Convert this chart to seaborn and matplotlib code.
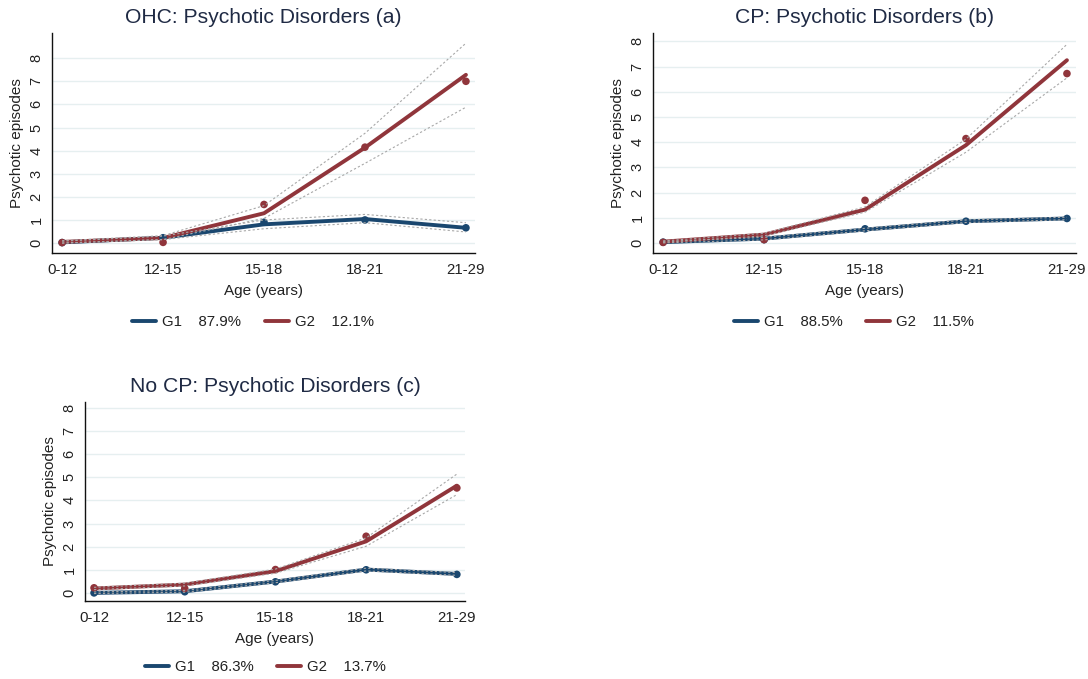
import numpy as np
import pandas as pd
import matplotlib
matplotlib.use("Agg")
import matplotlib.pyplot as plt
import seaborn as sns

# Age bands on the x axis
ages = ["0-12", "12-15", "15-18", "18-21", "21-29"]

# Panel (a): OHC
a_g1_fit = [0.03, 0.23, 0.81, 1.04, 0.66]
a_g1_obs = [0.02, 0.23, 0.90, 1.00, 0.66]
a_g1_lo = [0.00, 0.15, 0.62, 0.88, 0.48]
a_g1_hi = [0.08, 0.30, 1.00, 1.24, 0.88]
a_g2_fit = [0.05, 0.22, 1.29, 4.13, 7.28]
a_g2_obs = [0.02, 0.03, 1.67, 4.15, 7.00]
a_g2_lo = [0.00, 0.15, 1.07, 3.45, 5.88]
a_g2_hi = [0.10, 0.32, 1.62, 4.75, 8.65]
a_shares = ["87.9%", "12.1%"]

# Panel (b): CP
b_g1_fit = [0.03, 0.17, 0.53, 0.86, 0.97]
b_g1_obs = [0.03, 0.13, 0.56, 0.86, 0.97]
b_g1_lo = [0.00, 0.12, 0.48, 0.81, 0.92]
b_g1_hi = [0.06, 0.22, 0.58, 0.91, 1.02]
b_g2_fit = [0.05, 0.33, 1.32, 3.88, 7.25]
b_g2_obs = [0.02, 0.13, 1.69, 4.14, 6.72]
b_g2_lo = [0.02, 0.28, 1.22, 3.60, 6.55]
b_g2_hi = [0.08, 0.38, 1.43, 4.12, 7.88]
b_shares = ["88.5%", "11.5%"]

# Panel (c): No CP
c_g1_fit = [0.00, 0.07, 0.49, 1.01, 0.82]
c_g1_obs = [0.00, 0.05, 0.48, 1.00, 0.80]
c_g1_lo = [-0.03, 0.03, 0.44, 0.95, 0.76]
c_g1_hi = [0.04, 0.11, 0.54, 1.07, 0.88]
c_g2_fit = [0.19, 0.36, 0.94, 2.23, 4.64]
c_g2_obs = [0.22, 0.19, 1.01, 2.45, 4.54]
c_g2_lo = [0.14, 0.30, 0.85, 2.02, 4.25]
c_g2_hi = [0.24, 0.42, 1.03, 2.38, 5.14]
c_shares = ["86.3%", "13.7%"]

sns.set_style("white")
plt.rcParams["font.family"] = ["Liberation Sans", "DejaVu Sans"]

NAVY = "#1a476f"
MAROON = "#90353b"
CI_GREY = "#a8a8a8"
GRID = "#e6eff0"
TITLE_C = "#1f2a44"
TEXT_C = "#222222"


def build_frame(g1, g2):
    rows = []
    for grp, (fit, obs, lo, hi) in (("G1", g1), ("G2", g2)):
        for i, age in enumerate(ages):
            rows.append(dict(group=grp, x=i, age=age, fit=fit[i], obs=obs[i],
                             lo=lo[i], hi=hi[i]))
    return pd.DataFrame(rows)


def draw_panel(ax, df, title, shares, ylim, legend_y):
    palette = {"G1": NAVY, "G2": MAROON}
    for y in range(0, 9):
        ax.axhline(y, color=GRID, lw=1.0, zorder=0)
    # fitted trajectories
    sns.lineplot(data=df, x="x", y="fit", hue="group", palette=palette,
                 lw=2.8, ax=ax, zorder=3, legend=False)
    # observed means
    sns.scatterplot(data=df, x="x", y="obs", hue="group", palette=palette,
                    s=30, edgecolor="none", ax=ax, zorder=4, legend=False)
    # confidence bands as thin dashed grey lines
    for col in ("lo", "hi"):
        sns.lineplot(data=df, x="x", y=col, units="group", estimator=None,
                     color=CI_GREY, lw=0.8, linestyle=(0, (2, 2)),
                     ax=ax, zorder=5, legend=False)

    ax.set_xlim(-0.1, 4.09)
    ax.set_ylim(*ylim)
    ax.set_xticks(range(len(ages)))
    ax.set_xticklabels(ages)
    ax.set_yticks(range(0, 9))
    for lab in ax.get_yticklabels():
        lab.set_rotation(90)
        lab.set_va("center")
    ax.tick_params(axis="both", direction="out", length=4, width=0.9,
                   colors=TEXT_C, labelsize=10.8, pad=3)
    ax.tick_params(axis="y", labelsize=10.5, pad=2)
    for side in ("top", "right"):
        ax.spines[side].set_visible(False)
    for side in ("left", "bottom"):
        ax.spines[side].set_color("#111111")
        ax.spines[side].set_linewidth(1.0)
    ax.set_xlabel("Age (years)", fontsize=11, color=TEXT_C, labelpad=5)
    ax.set_ylabel("Psychotic episodes", fontsize=11, color=TEXT_C, labelpad=4)
    ax.set_title(title, fontsize=15.2, color=TITLE_C, pad=7)

    handles = [plt.Line2D([], [], color=NAVY, lw=2.8),
               plt.Line2D([], [], color=MAROON, lw=2.8)]
    labels = [f"G1    {shares[0]}", f"G2    {shares[1]}"]
    ax.legend(handles, labels, loc="center", bbox_to_anchor=(0.475, legend_y),
              ncol=2, frameon=False, fontsize=10.8, handlelength=1.6,
              columnspacing=1.6, handletextpad=0.4, labelcolor=TEXT_C)


fig = plt.figure(figsize=(10.88, 6.79), dpi=100)
ax_a = fig.add_axes([0.0478, 0.6274, 0.3888, 0.324])
ax_b = fig.add_axes([0.6002, 0.6274, 0.3888, 0.324])
ax_c = fig.add_axes([0.0781, 0.1149, 0.3493, 0.2931])

df_a = build_frame((a_g1_fit, a_g1_obs, a_g1_lo, a_g1_hi),
                   (a_g2_fit, a_g2_obs, a_g2_lo, a_g2_hi))
df_b = build_frame((b_g1_fit, b_g1_obs, b_g1_lo, b_g1_hi),
                   (b_g2_fit, b_g2_obs, b_g2_lo, b_g2_hi))
df_c = build_frame((c_g1_fit, c_g1_obs, c_g1_lo, c_g1_hi),
                   (c_g2_fit, c_g2_obs, c_g2_lo, c_g2_hi))

draw_panel(ax_a, df_a, "OHC: Psychotic Disorders (a)", a_shares, (-0.43, 9.09), -0.314)
draw_panel(ax_b, df_b, "CP: Psychotic Disorders (b)", b_shares, (-0.40, 8.33), -0.314)
draw_panel(ax_c, df_c, "No CP: Psychotic Disorders (c)", c_shares, (-0.35, 8.26), -0.332)

fig.savefig("out.png", dpi=100, facecolor="white")
